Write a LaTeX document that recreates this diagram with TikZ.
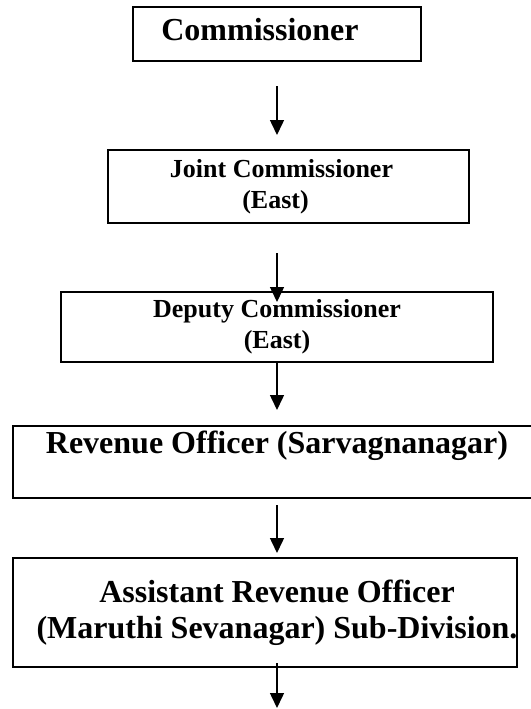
\documentclass[tikz,border=0pt]{standalone}
\usepackage{fontspec}
\setmainfont{Liberation Serif}
\usetikzlibrary{arrows.meta}

\begin{document}
\begin{tikzpicture}[x=1pt,y=-1pt,
        box/.style={draw,line width=2pt,inner sep=0pt,outer sep=0pt,align=center,
            font=\bfseries\fontsize{32}{36}\selectfont},
        smallbox/.style={box,font=\bfseries\fontsize{26}{31}\selectfont},
        arr/.style={line width=1.5pt,-{Triangle[width=14pt,length=15pt]}}]
    \useasboundingbox (0,0) rectangle (530,709);
    \node[box,minimum width=288pt,minimum height=54pt,text depth=10pt] (com) at (277,34)
        {Commissioner\hspace*{34pt}};
    \node[smallbox,minimum width=361pt,minimum height=73pt] (joint) at (288.5,186.5)
        {Joint Commissioner\hspace*{14pt}\\(East)\hspace*{26pt}};
    \node[smallbox,minimum width=432pt,minimum height=70pt] (deputy) at (277,327)
        {Deputy Commissioner\\(East)};
    \node[box,minimum width=528pt,minimum height=72pt,text depth=40pt] (ro) at (277,462)
        {Revenue Officer (Sarvagnanagar)};
    \node[box,minimum width=504pt,minimum height=109pt] (aro) at (265,612.5)
        {\hspace*{24pt}Assistant Revenue Officer\\\hspace*{24pt}(Maruthi Sevanagar) Sub-Division.};
    \coordinate (bottom) at (277,708);
    \draw[arr,shorten <=25pt,shorten >=15pt] (com.south) -- (com.south |- joint.north);
    \draw[arr,shorten <=30pt,shorten >=-10pt] (deputy.north |- joint.south) -- (deputy.north);
    \draw[arr,shorten >=16pt] (deputy.south) -- (ro.north);
    \draw[arr,shorten <=7pt,shorten >=5pt] (ro.south) -- (ro.south |- aro.north);
    \draw[arr,shorten <=-4pt] (bottom |- aro.south) -- (bottom);
\end{tikzpicture}
\end{document}
